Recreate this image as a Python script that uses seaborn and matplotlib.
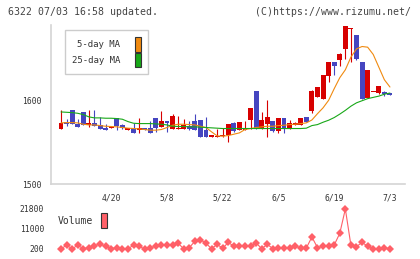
import matplotlib
matplotlib.use("Agg")
import matplotlib.pyplot as plt
from matplotlib.patches import Patch
import numpy as np
import seaborn as sns

# ---- data (60 trading days) ----
tick_days = [9, 19, 29, 39, 49, 59]
tick_labels = ['4/20', '5/8', '5/22', '6/5', '6/19', '7/3']

opens = [1565.9, 1573.8, 1588.1, 1572.2, 1585.7, 1571.0, 1572.6, 1571.0, 1567.5, 1567.0,
         1578.6, 1571.0, 1564.7, 1567.5, 1565.1, 1566.7, 1566.7, 1579.4, 1568.3, 1575.0,
         1565.9, 1565.9, 1565.9, 1569.0, 1575.4, 1576.2, 1564.3, 1555.6, 1556.3, 1557.1,
         1558.3, 1573.0, 1564.3, 1565.1, 1576.2, 1610.7, 1565.9, 1571.4, 1575.0, 1563.5,
         1578.6, 1565.9, 1570.6, 1570.6, 1579.8, 1587.3, 1603.6, 1601.6, 1629.0, 1645.2,
         1647.6, 1661.1, 1684.9, 1678.6, 1645.2, 1602.4, 1609.5, 1608.7, 1610.3, 1608.7]
closes = [1572.6, 1571.4, 1572.2, 1568.3, 1570.2, 1573.4, 1569.4, 1565.9, 1565.1, 1567.5,
          1569.0, 1567.1, 1567.5, 1561.1, 1566.7, 1564.3, 1561.1, 1567.5, 1575.0, 1572.6,
          1581.0, 1567.5, 1570.2, 1565.9, 1565.1, 1556.3, 1556.3, 1558.3, 1557.1, 1557.5,
          1572.2, 1563.5, 1573.8, 1567.5, 1590.5, 1565.9, 1576.2, 1579.8, 1563.5, 1578.6,
          1565.9, 1573.4, 1572.6, 1578.6, 1574.2, 1610.7, 1615.5, 1629.8, 1645.2, 1640.9,
          1655.2, 1689.3, 1686.5, 1649.2, 1602.0, 1635.7, 1609.9, 1616.7, 1607.9, 1606.3]
highs = [1588.9, 1578.2, 1588.1, 1577.4, 1585.7, 1588.9, 1588.9, 1579.8, 1572.2, 1568.0,
         1578.6, 1572.2, 1567.5, 1573.4, 1578.6, 1566.7, 1575.0, 1579.4, 1586.9, 1575.0,
         1583.3, 1581.0, 1578.2, 1575.4, 1583.3, 1576.2, 1580.2, 1558.3, 1566.3, 1567.5,
         1572.2, 1573.8, 1573.8, 1575.4, 1590.5, 1610.7, 1585.7, 1600.0, 1575.0, 1578.6,
         1578.6, 1576.2, 1574.2, 1578.6, 1579.8, 1612.3, 1615.5, 1629.8, 1645.2, 1645.2,
         1657.1, 1689.3, 1686.5, 1678.6, 1645.2, 1635.7, 1609.9, 1616.7, 1610.7, 1608.7]
lows = [1565.9, 1569.0, 1571.4, 1568.3, 1570.2, 1568.3, 1569.4, 1565.9, 1565.1, 1566.5,
        1564.3, 1566.3, 1564.7, 1561.1, 1561.5, 1564.3, 1561.1, 1562.3, 1568.3, 1562.3,
        1565.9, 1565.9, 1565.9, 1564.3, 1565.1, 1556.3, 1556.3, 1555.6, 1555.6, 1556.3,
        1550.4, 1562.3, 1564.3, 1564.3, 1565.9, 1565.9, 1565.9, 1556.3, 1561.9, 1561.1,
        1561.1, 1565.9, 1570.6, 1570.6, 1574.2, 1584.9, 1603.6, 1601.6, 1621.4, 1629.8,
        1640.9, 1648.8, 1646.0, 1648.4, 1601.2, 1602.4, 1609.5, 1607.1, 1605.2, 1606.3]
ma5 = [1573.0, 1573.4, 1573.4, 1573.0, 1571.4, 1570.6, 1570.6, 1569.8, 1569.0, 1568.7,
       1568.3, 1567.5, 1566.7, 1566.3, 1565.9, 1565.1, 1564.3, 1564.3, 1565.1, 1567.5,
       1570.2, 1571.4, 1571.4, 1571.0, 1570.6, 1569.0, 1567.5, 1562.3, 1557.5, 1557.1,
       1557.9, 1559.5, 1561.1, 1565.1, 1566.3, 1567.5, 1568.3, 1569.0, 1569.0, 1569.8,
       1570.2, 1571.0, 1571.4, 1572.2, 1573.0, 1576.5, 1584.0, 1591.0, 1600.0, 1613.9,
       1627.0, 1636.5, 1651.6, 1661.5, 1664.3, 1663.5, 1654.8, 1639.7, 1624.6, 1615.9]
ma25 = [1586.1, 1585.7, 1585.3, 1584.5, 1582.9, 1580.2, 1579.0, 1579.0, 1578.6, 1578.6,
        1578.2, 1577.4, 1574.6, 1572.6, 1572.2, 1572.2, 1572.2, 1571.8, 1571.4, 1570.6,
        1569.0, 1568.7, 1568.7, 1568.3, 1568.3, 1567.9, 1567.5, 1567.1, 1566.7, 1566.3,
        1566.3, 1566.3, 1566.3, 1566.3, 1566.3, 1566.3, 1566.3, 1566.3, 1566.3, 1566.3,
        1566.3, 1566.3, 1566.3, 1566.3, 1566.7, 1569.8, 1571.0, 1573.8, 1576.2, 1579.4,
        1583.5, 1588.0, 1593.0, 1597.0, 1599.5, 1602.0, 1603.5, 1605.0, 1607.3, 1608.7]
volume = [380, 2180, 380, 2180, 380, 920, 2000, 2900, 1640, 380,
          920, 380, 380, 2180, 1640, 200, 920, 1640, 2180, 2180,
          2540, 3260, 380, 920, 4340, 5240, 3260, 380, 2720, 560,
          3800, 1640, 1640, 1640, 1640, 3440, 380, 2720, 380, 560,
          740, 560, 1640, 920, 740, 6680, 920, 1640, 1640, 2360,
          8660, 21800, 2180, 1460, 3800, 1640, 200, 380, 740, 380]

RED = '#d70000'
BLUE = '#4545c0'
ORANGE = '#f08a10'
GREEN = '#18a818'
PINK = '#ff6068'
GRID = '#d4d4d4'
TXT = '#333333'

sns.set_style('white')
plt.rcParams['font.family'] = ['DejaVu Sans Mono']

fig = plt.figure(figsize=(4.2, 2.59), dpi=100)
ax = fig.add_axes([51/420, 1-184/259, 354/420, 159/259])
axv = fig.add_axes([51/420, 1-253/259, 354/420, 48/259])

x = np.arange(len(closes))
o = np.array(opens)
c = np.array(closes)
colors = np.where(c >= o, RED, BLUE)

# 蜡烛图
ax.vlines(x, lows, highs, colors=colors, linewidth=0.8, zorder=2)
body = np.maximum(np.abs(c - o), 1.2)
ax.bar(x, body, bottom=np.minimum(o, c), width=0.88, color=colors, linewidth=0, zorder=2)

sns.lineplot(x=x, y=ma5, ax=ax, color=ORANGE, linewidth=0.8, zorder=3)
sns.lineplot(x=x, y=ma25, ax=ax, color=GREEN, linewidth=0.8, zorder=3)

ax.set_xlim(-1.8, 61.7)
ax.set_ylim(1500, 1690)
ax.set_yticks([1500, 1600])
ax.set_xticks(tick_days)
ax.set_xticklabels(tick_labels)
ax.set_xticks(np.linspace(-1.8, 61.7, 12), minor=True)
ax.tick_params(axis='y', direction='inout', length=6, width=1, color=GRID,
               labelsize=5.8, labelcolor=TXT, pad=4)
ax.tick_params(axis='x', which='major', length=0, labelsize=5.8, labelcolor=TXT, pad=7)
ax.tick_params(axis='x', which='minor', direction='inout', length=5, width=1, color=GRID)
for s in ['top', 'right']:
    ax.spines[s].set_visible(False)
for s in ['left', 'bottom']:
    ax.spines[s].set_color(GRID)
    ax.spines[s].set_linewidth(1.2)

handles = [Patch(facecolor=ORANGE, edgecolor=TXT, linewidth=0.8, label='5-day MA'),
           Patch(facecolor=GREEN, edgecolor=TXT, linewidth=0.8, label='25-day MA')]
leg = ax.legend(handles=handles, markerfirst=False, loc='upper left',
                bbox_to_anchor=(65/420, 1-30/259), bbox_transform=fig.transFigure,
                fontsize=6.5, handlelength=0.7, handleheight=2.15, labelspacing=0.1,
                borderpad=0.75, handletextpad=1.6, fancybox=False, framealpha=1,
                edgecolor='#cccccc', borderaxespad=0)
leg.get_frame().set_linewidth(1)
for t in leg.get_texts():
    t.set_color(TXT)

# 出来高
sns.lineplot(x=x, y=volume, ax=axv, color=PINK, linewidth=0.8, marker='D',
             markersize=4.5, markeredgewidth=0)
axv.set_xlim(-1.8, 61.7)
axv.set_ylim(-1960, 23960)
axv.set_yticks([200, 11000, 21800])
axv.set_xticks([])
axv.tick_params(axis='y', length=0, labelsize=5.8, labelcolor=TXT, pad=5)
axv.set_xlabel('')
for s in axv.spines.values():
    s.set_visible(False)
axv.patch.set_alpha(0)

vleg = axv.legend(handles=[Patch(facecolor=PINK, edgecolor=TXT, linewidth=0.8, label='Volume')],
                  markerfirst=False, loc='upper left',
                  bbox_to_anchor=(58/420, 1-213/259), bbox_transform=fig.transFigure,
                  fontsize=7, handlelength=0.62, handleheight=2.0, handletextpad=0.8,
                  frameon=False, borderaxespad=0, borderpad=0)
for t in vleg.get_texts():
    t.set_color(TXT)

fig.text(8/420, 1-12/259, '6322 07/03 16:58 updated.', ha='left', va='center',
         fontsize=7.1, color='#444444')
fig.text(411/420, 1-12/259, '(C)https://www.rizumu.net/', ha='right', va='center',
         fontsize=7.1, color='#444444')

fig.savefig('out.png', dpi=100)
